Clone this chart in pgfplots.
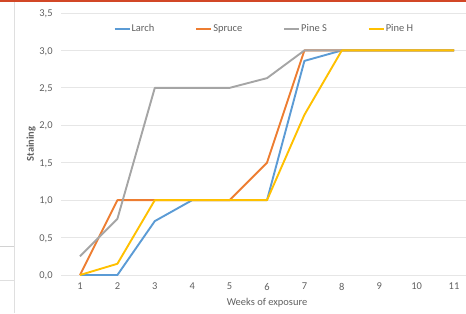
\documentclass[border=0pt]{standalone}
\usepackage{fontspec}
\setmainfont{Carlito}
\usepackage{pgfplots}
\pgfplotsset{compat=1.18}
\definecolor{larch}{HTML}{5B9BD5}
\definecolor{spruce}{HTML}{ED7D31}
\definecolor{pines}{HTML}{A5A5A5}
\definecolor{pineh}{HTML}{FFC000}
\definecolor{txt}{HTML}{606060}
\definecolor{gridc}{HTML}{E6E6E6}
\definecolor{pptred}{HTML}{D24726}
\begin{document}
\begin{tikzpicture}[x=1bp,y=1bp]
\path[use as bounding box] (0,0) rectangle (466,313);
\fill[pptred] (0,310.5) rectangle (466,313);
\draw[gray!25, line width=0.8bp] (14,0) -- (14,310.5);
\draw[gray!35, line width=0.8bp] (0,67) -- (14,67);
\draw[gray!25, line width=0.8bp] (0,33) -- (14,33);
\begin{axis}[
  at={(61.3bp,38bp)}, anchor=south west,
  scale only axis, width=411.4bp, height=262bp,
  xmin=0.5, xmax=11.5, ymin=0, ymax=3.5,
  xtick={1,2,3,4,5,6,7,8,9,10,11},
  ytick={0,0.5,1,1.5,2,2.5,3,3.5},
  axis line style={draw=none},
  major tick length=0pt,
  ymajorgrids, grid style={gridc, line width=0.8bp},
  clip=false,
  /pgf/number format/assume math mode=true,
  yticklabel={\pgfmathprintnumber[use comma,fixed,fixed zerofill,precision=1]{\tick}},
  xticklabel style={font=\fontsize{10.5}{12}\selectfont, text=txt, inner sep=0pt, anchor=north, yshift=-8bp},
  yticklabel style={font=\fontsize{10.5}{12}\selectfont, text=txt, inner sep=0pt, anchor=base east, xshift=-8.5bp, yshift=-3.6bp},
  every axis y label/.style={at={(axis description cs:-0.0737,0.5)}, rotate=90, anchor=center, font=\bfseries\fontsize{10.5}{12}\selectfont, text=txt},
  every axis x label/.style={at={(axis description cs:0.5,-0.1069)}, anchor=center, font=\fontsize{10.5}{12}\selectfont, text=txt},
  ylabel={Staining},
  xlabel={Weeks of exposure},
  legend columns=4,
  legend style={at={(axis description cs:0.4925,0.939)}, anchor=center, draw=none, fill=none,
    font=\fontsize{10.5}{12}\selectfont, text=txt,
    /tikz/every even column/.append style={column sep=40bp},
    nodes={inner sep=1bp}},
  legend image code/.code={\draw[#1] (0bp,0bp) -- (15bp,0bp);},
  every axis plot/.append style={line width=1.9bp, line join=round},
]
\addplot[larch] coordinates {(1,0) (2,0) (3,0.72) (4,1) (5,1) (6,1) (7,2.86) (8,3) (9,3) (10,3) (11,3)};
\addlegendentry{Larch}
\addplot[spruce] coordinates {(1,0) (2,1) (3,1) (4,1) (5,1) (6,1.5) (7,3) (8,3) (9,3) (10,3) (11,3)};
\addlegendentry{Spruce}
\addplot[pines] coordinates {(1,0.25) (2,0.75) (3,2.5) (4,2.5) (5,2.5) (6,2.63) (7,3) (8,3) (9,3) (10,3) (11,3)};
\addlegendentry{Pine S}
\addplot[pineh] coordinates {(1,0) (2,0.15) (3,1) (4,1) (5,1) (6,1) (7,2.14) (8,3) (9,3) (10,3) (11,3)};
\addlegendentry{Pine H}
\end{axis}
\end{tikzpicture}
\end{document}
